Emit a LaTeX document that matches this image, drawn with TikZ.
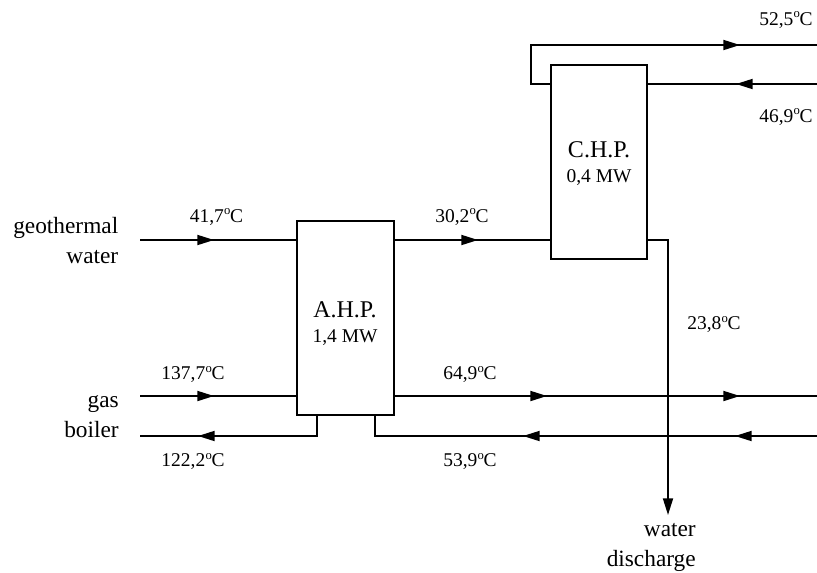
\documentclass[tikz,border=0pt]{standalone}
\usepackage{fontspec}
\setmainfont{Liberation Serif}
\usetikzlibrary{arrows.meta}
\tikzset{
  x=0.75pt,y=-0.75pt,
  pipe/.style={line width=1.35pt,line cap=butt,line join=miter},
  flow/.style={pipe,-{Triangle[length=12.5pt,width=7.5pt]}},
  unit/.style={draw,line width=1.35pt,minimum width=72.5pt,inner sep=0pt,fill=white},
  lbl/.style={font=\fontsize{14.6}{16}\selectfont,inner sep=0pt,anchor=base},
  head/.style={font=\fontsize{18}{20}\selectfont,inner sep=0pt,anchor=base},
  side/.style={font=\fontsize{17.5}{22.5}\selectfont,inner sep=0pt,align=right,anchor=east}
}
\newcommand{\tempC}[1]{#1\kern0.2pt\raisebox{0.36em}{\fontsize{9.5}{10}\selectfont o}\kern-0.2pt C}
\begin{document}
\begin{tikzpicture}
\useasboundingbox (0,0) rectangle (817,572);
% units
\node[unit,minimum height=145.5pt] (ahp) at (345.5,318) {};
\node[unit,minimum height=146pt] (chp) at (599,162) {};
\node[head] (ahpa) at (345,317) {A.H.P.};
\node[lbl] (ahpb) at (345,342) {1,4 MW};
\node[head] (chpa) at (599,157) {C.H.P.};
\node[lbl] (chpb) at (599,182) {0,4 MW};
% free ends and tips
\coordinate (g0) at (140,240);
\coordinate (g1) at (214,240);
\coordinate (m1) at (478,240);
\coordinate (a0) at (140,396);
\coordinate (a1) at (214,396);
\coordinate (b0) at (140,436);
\coordinate (b1) at (198,436);
\coordinate (b2) at (317,436);
\coordinate (c0) at (375,436);
\coordinate (c1) at (523,436);
\coordinate (c2) at (735,436);
\coordinate (c3) at (817,436);
\coordinate (d1) at (547,396);
\coordinate (d2) at (740,396);
\coordinate (d3) at (817,396);
\coordinate (e0) at (531,84);
\coordinate (e1) at (531,45);
\coordinate (e2) at (740,45);
\coordinate (e3) at (817,45);
\coordinate (f1) at (736,84);
\coordinate (f3) at (817,84);
\coordinate (h0) at (668,240);
\coordinate (h1) at (668,515);
% connectors: full runs
\draw[pipe] (g0) -- (ahp.west |- g0);
\draw[pipe] (ahp.east |- m1) -- (chp.west |- m1);
\draw[pipe] (a0) -- (ahp.west |- a0);
\draw[pipe] (ahp.east |- d3) -- (d3);
\draw[pipe] (b2 |- ahp.south) -- (b2) -- (b0);
\draw[pipe] (c0 |- ahp.south) -- (c0) -- (c3);
\draw[pipe] (chp.west |- e0) -- (e0) -- (e1) -- (e3);
\draw[pipe] (f3) -- (chp.east |- f3);
\draw[flow] (chp.east |- h0) -- (h0) -- (h1);
% mid-run arrowheads
\draw[flow] (g0) -- (g1);
\draw[flow] (ahp.east |- m1) -- (m1);
\draw[flow] (a0) -- (a1);
\draw[flow] (ahp.east |- d1) -- (d1);
\draw[flow] (d1) -- (d2);
\draw[flow] (b2) -- (b1);
\draw[flow] (c2) -- (c1);
\draw[flow] (c3) -- (c2);
\draw[flow] (e1) -- (e2);
\draw[flow] (f3) -- (f1);
% labels
\node[lbl] (l1) at (216.5,222) {\tempC{41,7}};
\node[lbl] (l2) at (462,222) {\tempC{30,2}};
\node[lbl] (l3) at (193,379) {\tempC{137,7}};
\node[lbl] (l4) at (193,466) {\tempC{122,2}};
\node[lbl] (l5) at (470,379) {\tempC{64,9}};
\node[lbl] (l6) at (470,466) {\tempC{53,9}};
\node[lbl] (l7) at (714,329) {\tempC{23,8}};
\node[lbl] (l8) at (786,25) {\tempC{52,5}};
\node[lbl] (l9) at (786,122) {\tempC{46,9}};
\node[side] (s1) at (118.5,241) {geothermal\\water};
\node[side] (s2) at (119,417) {gas\\boiler};
\node[side] (s3) at (696,547) {water\\discharge};
\end{tikzpicture}
\end{document}
